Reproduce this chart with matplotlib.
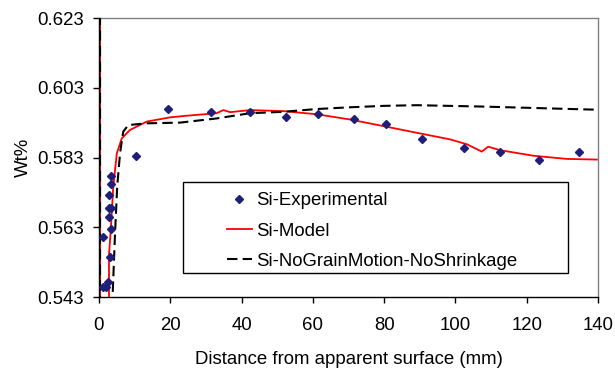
import matplotlib
matplotlib.use('Agg')
import matplotlib.pyplot as plt
from matplotlib.patches import Rectangle

# Experimental points (distance mm, wt%)
expX = [1.2, 1.0, 2.0, 2.4, 3.1, 3.3, 2.7, 2.8, 3.4, 2.8, 3.5, 3.4, 10.5, 19.4,
        31.4, 42.5, 52.4, 61.5, 71.5, 80.4, 90.5, 102.5, 112.4, 123.5, 134.7]
expY = [0.5603, 0.5458, 0.5459, 0.5474, 0.5546, 0.5626, 0.5659, 0.5684, 0.5684, 0.5722, 0.5753, 0.5778, 0.5834, 0.5968,
        0.5960, 0.5960, 0.5945, 0.5956, 0.5940, 0.5927, 0.5882, 0.5858, 0.5845, 0.5824, 0.5847]

# Model curve (runs outside the y range near the surface)
modelX = [0.3, 0.3, 2.8, 2.8, 3.3, 4.0, 5.0, 6.4, 8.7, 13.4, 19.9, 23.7, 33.0, 34.9, 36.8,
          42.4, 51.7, 61.1, 70.4, 79.8, 89.1, 98.5, 103.2, 107.4, 109.2, 112.5, 121.9, 131.2, 139.7]
modelY = [0.66, 0.50, 0.50, 0.555, 0.5622, 0.5746, 0.5842, 0.5885, 0.5909, 0.5933, 0.5945, 0.5949, 0.5957, 0.5966, 0.5960,
          0.5966, 0.5963, 0.5954, 0.5939, 0.5920, 0.5901, 0.5882, 0.5868, 0.5847, 0.5861, 0.5851, 0.5835, 0.5826, 0.5824]

# No grain motion / no shrinkage curve
noGrainX = [0.3, 0.3, 3.8, 3.8, 4.5, 5.1, 5.9, 6.8, 8.2, 13.4, 22.7, 33.0, 42.4, 51.7,
            61.1, 70.4, 79.8, 89.1, 107.8, 139.7]
noGrainY = [0.66, 0.50, 0.50, 0.543, 0.5613, 0.5746, 0.5842, 0.5904, 0.5923, 0.5928, 0.5930, 0.5942, 0.5957, 0.5961,
            0.5969, 0.5974, 0.5978, 0.5980, 0.5976, 0.5967]

xTicks = [0, 20, 40, 60, 80, 100, 120, 140]
yTicks = [0.543, 0.563, 0.583, 0.603, 0.623]

plt.rcParams['font.family'] = ['Liberation Sans', 'DejaVu Sans']
fontSize = 13.4

fig = plt.figure(figsize=(6.15, 3.69), dpi=100)
ax = fig.add_axes([99 / 615, 1 - 297 / 369, 499 / 615, 279 / 369])

ax.plot(modelX, modelY, color='#ff0000', lw=1.3, label='Si-Model', zorder=2)
ax.plot(noGrainX, noGrainY, color='black', lw=1.5, dashes=(5, 2.5),
        label='Si-NoGrainMotion-NoShrinkage', zorder=3)
ax.plot(expX, expY, ls='none', marker='D', ms=4.5, color='#1f1f7a',
        label='Si-Experimental', zorder=4)

ax.set_xlim(0, 140)
ax.set_ylim(0.543, 0.623)
ax.set_xticks(xTicks)
ax.set_yticks(yTicks)
ax.set_yticklabels([f'{v:.3f}' for v in yTicks])
ax.tick_params(direction='out', length=4.3, width=1, labelsize=fontSize, colors='black')
ax.tick_params(axis='x', pad=10)
ax.tick_params(axis='y', pad=6.5)

for side in ['top', 'right']:
    ax.spines[side].set_color('#808080')
    ax.spines[side].set_linewidth(1)
for side in ['left', 'bottom']:
    ax.spines[side].set_color('black')
    ax.spines[side].set_linewidth(1)

ax.set_xlabel('Distance from apparent surface (mm)', fontsize=fontSize, labelpad=12)
ax.set_ylabel('Wt%', fontsize=fontSize, labelpad=4)

# legend box drawn separately (wide frame, content offset to the right)
ax.add_patch(Rectangle((0.1677, 0.086), 0.772, 0.326, transform=ax.transAxes,
                       facecolor='white', edgecolor='black', lw=1, zorder=5))
handles, labels = ax.get_legend_handles_labels()
order = [2, 0, 1]
leg = ax.legend([handles[i] for i in order], [labels[i] for i in order],
                loc='upper left', bbox_to_anchor=(0.256, 0.376),
                fontsize=fontSize, frameon=False, handlelength=1.35, handletextpad=0.25,
                borderpad=0, labelspacing=0.72, borderaxespad=0)
leg.set_zorder(6)

fig.savefig('out.png', dpi=100)
